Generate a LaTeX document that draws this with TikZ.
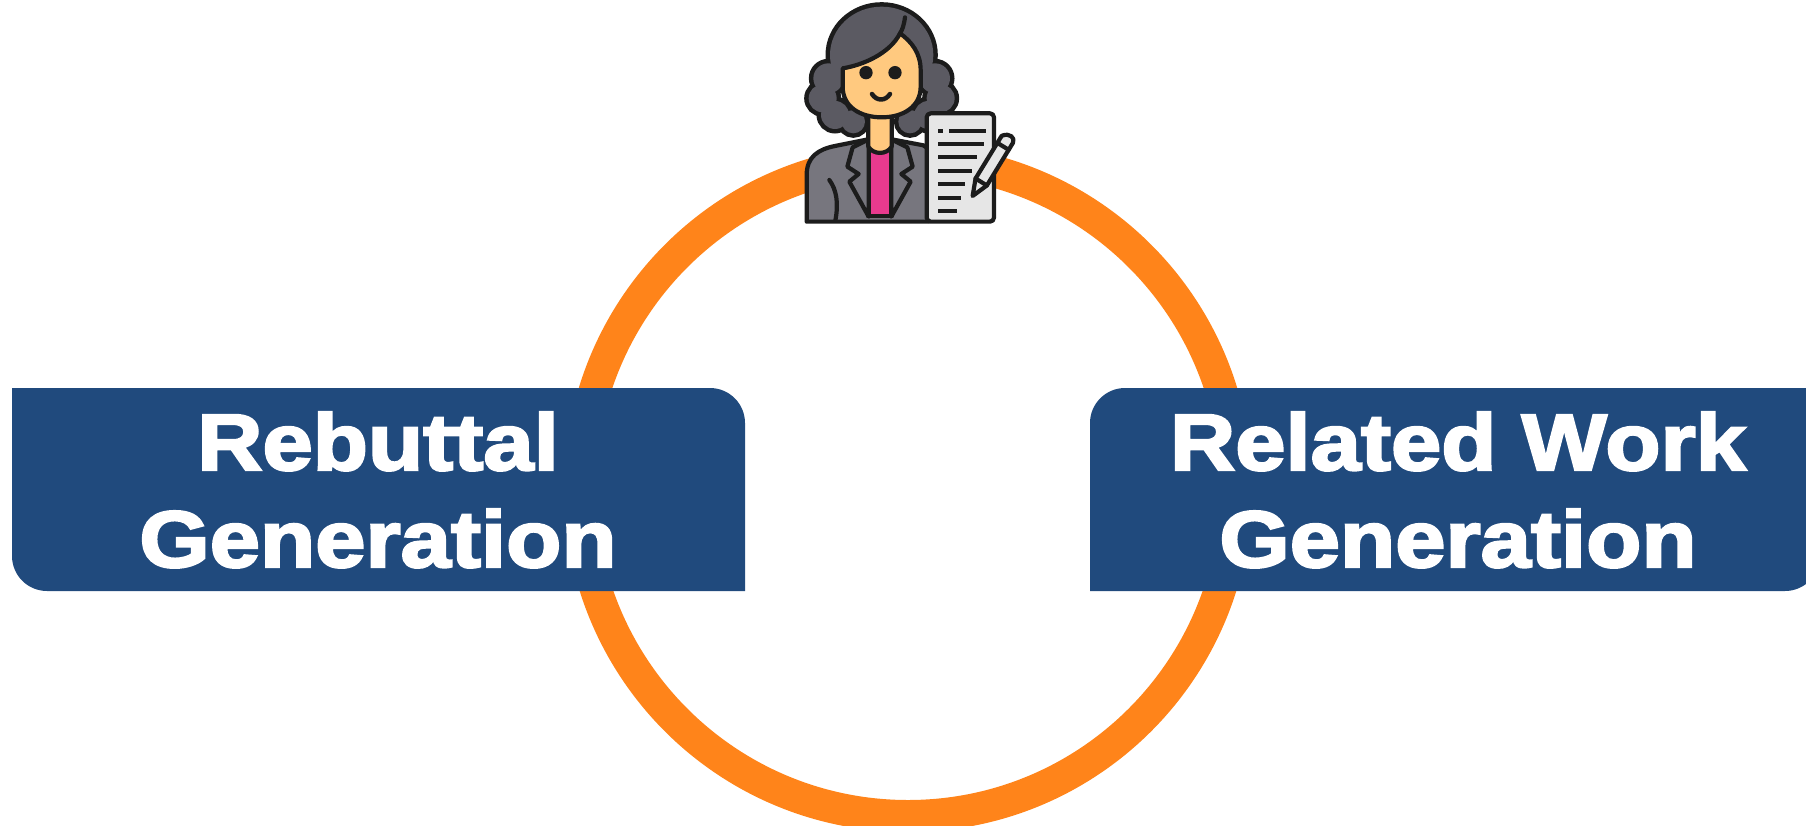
\documentclass[tikz,border=0pt]{standalone}
\usepackage{fontspec}
\newfontfamily\heavyfont{Liberation Sans}[FakeStretch=1.13,FakeBold=3]
\definecolor{ringorange}{HTML}{FF841A}
\definecolor{boxblue}{HTML}{204A7D}
\definecolor{hairgray}{HTML}{5B5A62}
\definecolor{suitgray}{HTML}{77767E}
\definecolor{skin}{HTML}{FFC97F}
\definecolor{shirtpink}{HTML}{E83A8E}
\definecolor{paper}{HTML}{E6E6E6}
\definecolor{ink}{HTML}{1C1C1C}
\tikzset{
  ring/.style={draw=ringorange, line width=32pt},
  panel/.style={fill=boxblue},
  lbl/.style={text=white, font=\heavyfont\bfseries\fontsize{80}{96}\selectfont, anchor=base, inner sep=0pt},
  outl/.style={draw=ink, line width=4.2pt, line join=round, line cap=round},
  docline/.style={draw=ink, line width=4pt},
}
\begin{document}
\begin{tikzpicture}[x=1pt,y=-1pt]
\useasboundingbox (0,0) rectangle (1806,825);

% the orange cycle
\draw[ring] (908,488) circle[radius=328];

% left panel: square top-left / bottom-right corners
\fill[panel] (12,388) -- (710,388) .. controls (729.3,388) and (745,403.7) .. (745,423)
  -- (745,591) -- (47,591) .. controls (27.7,591) and (12,575.3) .. (12,556) -- cycle;
\node[lbl] (rebA) at (378,470) {Rebuttal};
\node[lbl] (rebB) at (378,567) {Generation};

% right panel: runs past the right edge
\fill[panel] (1125,388) -- (1820,388) -- (1820,556) .. controls (1820,575.3) and (1804.3,591) .. (1785,591)
  -- (1090,591) -- (1090,423) .. controls (1090,403.7) and (1105.7,388) .. (1125,388) -- cycle;
\node[lbl] (relA) at (1458,470) {Related Work};
\node[lbl] (relB) at (1458,567) {Generation};

% writer icon on top of the cycle
\begin{scope}[shift={(790,0)}, scale=0.3333]
  % hair: outline of the union, then the fill
  \draw[ink, line width=9pt] (275,165) ellipse[x radius=155, y radius=145];
  \foreach \cx/\cy/\r in {115/235/45, 98/295/42, 135/345/42, 190/365/35,
                          435/235/45, 452/295/42, 415/345/42, 360/365/35}
    \draw[ink, line width=9pt] (\cx,\cy) circle[radius=\r];
  \fill[hairgray] (275,165) ellipse[x radius=155, y radius=145];
  \foreach \cx/\cy/\r in {115/235/45, 98/295/42, 135/345/42, 190/365/35,
                          435/235/45, 452/295/42, 415/345/42, 360/365/35}
    \fill[hairgray] (\cx,\cy) circle[radius=\r];

  % jacket
  \draw[outl, fill=suitgray] (50,665) -- (50,525) .. controls (50,470) and (85,448) .. (135,438)
    -- (235,418) -- (305,418) -- (400,436) -- (415,446) -- (415,665) -- cycle;
  % shirt
  \draw[outl, fill=shirtpink] (234,440) rectangle (306,648);
  % lapels
  \draw[outl, fill=suitgray] (236,418) -- (188,442) -- (172,500) -- (206,522) -- (178,545) -- (236,650) -- cycle;
  \draw[outl, fill=suitgray] (304,418) -- (352,442) -- (368,500) -- (334,522) -- (362,545) -- (304,650) -- cycle;
  % arm crease
  \draw[outl] (118,540) .. controls (140,570) and (146,610) .. (136,662);
  % neck
  \fill[skin] (235,330) -- (235,440) .. controls (250,465) and (290,465) .. (305,440) -- (305,330) -- cycle;
  \draw[outl] (235,330) -- (235,440) .. controls (250,465) and (290,465) .. (305,440) -- (305,330);
  % face
  \draw[outl, fill=skin] (158,205) .. controls (220,195) and (300,160) .. (330,100)
    .. controls (365,125) and (392,160) .. (392,210) -- (392,260)
    .. controls (392,320) and (340,352) .. (275,352)
    .. controls (210,352) and (158,320) .. (158,260) -- cycle;
  % hair parting
  \draw[outl] (345,52) .. controls (342,75) and (337,90) .. (330,100);
  % eyes and smile
  \fill[ink] (228,218) circle[radius=20];
  \fill[ink] (315,218) circle[radius=20];
  \draw[outl, line width=4.5pt] (246,282) .. controls (260,304) and (286,304) .. (300,282);

  % notepad
  \draw[outl, fill=paper, rounded corners=4pt] (410,340) rectangle (612,665);
  \draw[docline] (445,392) -- (460,392);
  \draw[docline] (478,392) -- (588,392);
  \draw[docline] (445,432) -- (582,432);
  \draw[docline] (445,472) -- (560,472);
  \draw[docline] (445,512) -- (545,512);
  \draw[docline] (445,552) -- (525,552);
  \draw[docline] (445,594) -- (512,594);
  \draw[docline] (445,634) -- (500,634);

  % pencil
  \draw[outl, fill=paper] (669,428.4) .. controls (676,414) and (660,397) .. (635,407.6)
    -- (556.7,535.6) -- (548,588) -- (590.7,556.4) -- cycle;
  \draw[outl] (622,428.6) -- (656,449.4);
  \draw[outl] (556.7,535.6) -- (590.7,556.4);
\end{scope}
\end{tikzpicture}
\end{document}
